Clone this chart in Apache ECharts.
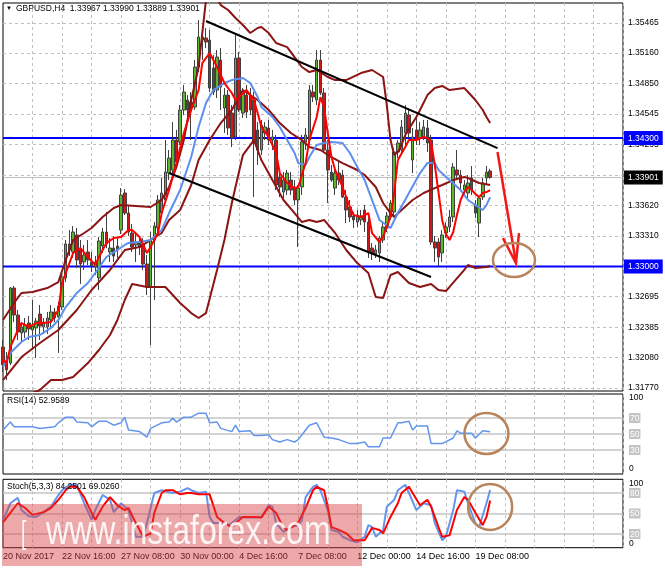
<!DOCTYPE html>
<html><head><meta charset="utf-8">
<script src="https://cdn.jsdelivr.net/npm/echarts@6/dist/echarts.min.js"></script>
<style>html,body{margin:0;padding:0;background:#fff}#c{width:665px;height:568px}</style>
</head><body><div id="c"></div>
<script>
// ---------- categories / ticks ----------
const barCount = 169;                 // H4 bars visible across the plot width
const barsPerLabel = 16;
const barsPerGrid = 8;
const tickLabels = ['20 Nov 2017','22 Nov 16:00','27 Nov 08:00','30 Nov 00:00','4 Dec 16:00','7 Dec 08:00','12 Dec 00:00','14 Dec 16:00','19 Dec 08:00'];
const priceGrid = [1.31770,1.32080,1.32385,1.32695,1.33000,1.33310,1.33620,1.33925,1.34235,1.34545,1.34850,1.35160,1.35465];
const priceLabels = [1.31770,1.32080,1.32385,1.32695,1.33310,1.33620,1.34235,1.34545,1.34850,1.35160,1.35465];
const priceMin = 1.31740, priceMax = 1.35667;
const levels = [1.34300, 1.33000];
const lastPrice = 1.33901;
const rsiLevels = [30,50,70];
const stochLevels = [20,50,80];

// ---------- candles ----------
const open = [1.32185,1.32054,1.32023,1.32782,1.32509,1.32327,1.32337,1.32428,1.32357,1.32378,
1.32519,1.32388,1.32388,1.32459,1.32540,1.32489,1.32590,1.32884,1.33228,1.33147,
1.33319,1.33167,1.33046,1.33147,1.33046,1.32995,1.32884,1.33207,1.33349,1.33147,
1.33187,1.33207,1.33369,1.33744,1.33541,1.33339,1.33218,1.33248,1.33228,1.33025,
1.32793,1.33268,1.33390,1.33541,1.33673,1.33946,1.33977,1.34280,1.34260,1.34584,
1.34685,1.34665,1.34614,1.35019,1.35292,1.35313,1.35292,1.35009,1.34786,1.35090,
1.34604,1.34735,1.34553,1.34311,1.35110,1.34553,1.34735,1.34735,1.34685,1.34382,
1.34179,1.34351,1.34402,1.34280,1.34280,1.33906,1.33754,1.33774,1.33875,1.33794,
1.33673,1.33805,1.34260,1.34280,1.34766,1.34685,1.35090,1.34756,1.34179,1.33956,
1.33794,1.33946,1.33926,1.33703,1.33602,1.33511,1.33450,1.33471,1.33572,1.33450,
1.33187,1.33127,1.33137,1.33268,1.33390,1.33501,1.33552,1.34159,1.34179,1.34351,
1.34533,1.34078,1.34382,1.34300,1.34311,1.34402,1.34280,1.33248,1.33248,1.33137,
1.33339,1.33400,1.33501,1.33977,1.33926,1.33774,1.33744,1.33896,1.33622,1.33440,
1.33703,1.33896,1.33967];
const close = [1.32003,1.31953,1.32782,1.32509,1.32337,1.32388,1.32408,1.32368,1.32398,1.32448,
1.32398,1.32438,1.32479,1.32540,1.32479,1.32600,1.32894,1.33228,1.33167,1.33349,
1.33066,1.33025,1.33116,1.33066,1.33005,1.33046,1.33258,1.33349,1.33228,1.33187,
1.33106,1.33167,1.33724,1.33541,1.33349,1.33197,1.33248,1.33197,1.33025,1.32793,
1.33268,1.33410,1.33673,1.33744,1.33956,1.34098,1.34280,1.34058,1.34584,1.34766,
1.34584,1.34604,1.35019,1.35323,1.35323,1.35272,1.34806,1.34766,1.35120,1.34816,
1.34735,1.34402,1.34300,1.35110,1.34584,1.34766,1.34564,1.34584,1.34250,1.34179,
1.34432,1.34412,1.34280,1.34311,1.33825,1.33805,1.33875,1.33946,1.33774,1.33673,
1.33794,1.34260,1.34331,1.34786,1.34715,1.35090,1.34756,1.34179,1.33977,1.33875,
1.33946,1.33875,1.33703,1.33572,1.33501,1.33471,1.33521,1.33511,1.33450,1.33147,
1.33137,1.33167,1.33288,1.33400,1.33511,1.33643,1.34159,1.34250,1.34412,1.34553,
1.34351,1.34311,1.34280,1.34382,1.34412,1.34250,1.33248,1.33187,1.33096,1.33319,
1.33400,1.33501,1.34007,1.33926,1.33845,1.33825,1.33845,1.33774,1.33541,1.33693,
1.33845,1.33956,1.33901];
const low = [1.31932,1.31851,1.32003,1.32438,1.32256,1.32236,1.32276,1.32256,1.32155,1.32074,
1.32256,1.32317,1.32317,1.32388,1.32438,1.32125,1.32560,1.32843,1.33106,1.33086,
1.32985,1.32823,1.32965,1.33015,1.32944,1.32914,1.32762,1.33137,1.33187,1.33046,
1.33046,1.33086,1.33329,1.33521,1.33309,1.33147,1.33046,1.33116,1.32965,1.32712,
1.32206,1.32661,1.33319,1.33521,1.33643,1.33875,1.33926,1.34027,1.34230,1.34533,
1.34503,1.34280,1.34584,1.34968,1.35090,1.35211,1.34766,1.34735,1.34705,1.34584,
1.34351,1.34331,1.34209,1.34280,1.34564,1.34503,1.34503,1.34533,1.33703,1.34027,
1.34128,1.34280,1.34230,1.34179,1.33774,1.33703,1.33693,1.33724,1.33724,1.33622,
1.33197,1.33724,1.34179,1.34230,1.34665,1.34634,1.34735,1.34159,1.33643,1.33855,
1.33724,1.33825,1.33693,1.33440,1.33450,1.33390,1.33400,1.33420,1.33349,1.33086,
1.33066,1.33086,1.33046,1.33238,1.33349,1.33471,1.33521,1.34098,1.34128,1.34230,
1.34300,1.33946,1.34230,1.34230,1.34280,1.34159,1.33218,1.33046,1.33005,1.33046,
1.33288,1.33349,1.33450,1.33896,1.33774,1.33724,1.33693,1.33724,1.33491,1.33299,
1.33673,1.33825,1.33889];
const high = [1.32256,1.32135,1.32793,1.32803,1.32560,1.32438,1.32479,1.32499,1.32661,1.32479,
1.32610,1.32479,1.32540,1.32610,1.32580,1.32641,1.32914,1.33268,1.33369,1.33410,
1.33390,1.33268,1.33218,1.33268,1.33147,1.33106,1.33299,1.33390,1.33552,1.33288,
1.33309,1.33288,1.33794,1.33784,1.33622,1.33430,1.33349,1.33309,1.33288,1.33116,
1.33349,1.33450,1.33724,1.33896,1.34280,1.34179,1.34462,1.34382,1.34634,1.34837,
1.34735,1.34766,1.35090,1.35495,1.35373,1.35414,1.35394,1.35140,1.35191,1.35211,
1.34806,1.34786,1.34634,1.35363,1.35171,1.34806,1.34837,1.34806,1.34766,1.34462,
1.34483,1.34462,1.34483,1.34382,1.34331,1.33977,1.33956,1.33977,1.33956,1.33875,
1.33825,1.34331,1.34402,1.34837,1.34837,1.35191,1.35191,1.34806,1.34280,1.34027,
1.33997,1.34078,1.33977,1.33774,1.33673,1.33552,1.33572,1.33572,1.33622,1.33491,
1.33238,1.33218,1.33309,1.33450,1.33552,1.33673,1.34199,1.34280,1.34483,1.34634,
1.34604,1.34402,1.34533,1.34462,1.34483,1.34483,1.34331,1.33309,1.33288,1.33369,
1.33450,1.33572,1.34047,1.34179,1.33977,1.33875,1.33926,1.34017,1.33673,1.33713,
1.33896,1.34017,1.33990];

// ---------- indicator lines, read as [bar, value] ----------
const redMA = [[0,1.32054],[1,1.32023],[2,1.32185],[4,1.32357],[5,1.32428],[7,1.32388],[9,1.32428],[11,1.32428],[13,1.32438],[15,1.32560],[16,1.32833],[18,1.33035],[19,1.33137],[21,1.33187],[23,1.33096],[25,1.33015],[26,1.33096],[28,1.33238],[30,1.33288],[32,1.33299],[34,1.33369],[35,1.33369],[37,1.33299],[39,1.33137],[40,1.33197],[42,1.33339],[43,1.33541],[45,1.33774],[47,1.34047],[49,1.34351],[51,1.34584],[53,1.34786],[54,1.35059],[56,1.35161],[57,1.35090],[58,1.35019],[60,1.34857],[62,1.34756],[63,1.34685],[64,1.34715],[66,1.34786],[68,1.34685],[69,1.34553],[70,1.34412],[72,1.34311],[74,1.34149],[75,1.33946],[77,1.33845],[79,1.33794],[80,1.33805],[82,1.34047],[83,1.34280],[85,1.34513],[86,1.34715],[87,1.34614],[88,1.34351],[89,1.34108],[90,1.33977],[92,1.33805],[94,1.33602],[95,1.33521],[97,1.33501],[99,1.33541],[100,1.33339],[102,1.33248],[103,1.33299],[105,1.33501],[106,1.33744],[107,1.34078],[109,1.34209],[110,1.34280],[112,1.34280],[114,1.34311],[115,1.34300],[116,1.34260],[117,1.34027],[118,1.33754],[119,1.33471],[120,1.33329],[121,1.33268],[122,1.33349],[123,1.33521],[124,1.33673],[125,1.33754],[126,1.33805],[127,1.33774],[128,1.33734],[129,1.33703],[130,1.33744],[131,1.33754],[132,1.33774]];
const blueMA = [[0,1.31983],[2,1.32125],[5,1.32236],[7,1.32287],[10,1.32307],[13,1.32378],[15,1.32459],[17,1.32590],[20,1.32732],[23,1.32833],[25,1.32934],[28,1.33096],[31,1.33167],[33,1.33218],[34,1.33238],[37,1.33248],[40,1.33268],[43,1.33369],[45,1.33541],[48,1.33774],[51,1.34108],[53,1.34412],[55,1.34655],[57,1.34786],[60,1.34857],[62,1.34887],[65,1.34908],[67,1.34857],[69,1.34715],[70,1.34614],[73,1.34513],[75,1.34412],[77,1.34280],[79,1.34149],[80,1.34047],[82,1.34027],[83,1.34108],[85,1.34230],[87,1.34250],[89,1.34260],[92,1.34250],[94,1.34149],[96,1.34007],[98,1.33875],[99,1.33774],[102,1.33471],[105,1.33390],[107,1.33541],[110,1.33744],[113,1.33946],[115,1.34047],[117,1.34047],[118,1.33977],[121,1.33875],[124,1.33774],[126,1.33673],[130,1.33572],[131,1.33622],[132,1.33703]];
const bbUpper = [[0,1.32459],[3,1.32631],[5,1.32732],[8,1.32742],[12,1.32782],[15,1.32843],[17,1.33066],[19,1.33268],[22,1.33339],[24,1.33390],[27,1.33501],[30,1.33592],[32,1.33622],[36,1.33612],[40,1.33602],[43,1.33673],[45,1.33805],[47,1.34007],[49,1.34280],[51,1.34685],[53,1.35019],[54,1.35363],[55,1.35697],[57,1.35778],[59,1.35646],[61,1.35596],[63,1.35515],[65,1.35444],[67,1.35363],[69,1.35414],[70,1.35424],[72,1.35363],[74,1.35262],[77,1.35221],[79,1.35120],[81,1.35019],[83,1.34968],[85,1.34989],[88,1.34918],[90,1.34887],[93,1.34887],[97,1.34958],[100,1.34989],[103,1.34918],[104,1.34634],[105,1.34280],[106,1.34128],[107,1.34159],[108,1.34230],[109,1.34331],[112,1.34513],[113,1.34584],[115,1.34735],[117,1.34806],[119,1.34827],[121,1.34786],[125,1.34806],[126,1.34766],[128,1.34685],[130,1.34584],[131,1.34513],[132,1.34452]];
const bbMiddle = [[0,1.31851],[5,1.32084],[10,1.32226],[15,1.32357],[20,1.32560],[24,1.32762],[29,1.32965],[33,1.33167],[37,1.33197],[40,1.33268],[43,1.33339],[45,1.33471],[48,1.33572],[51,1.33825],[53,1.34078],[56,1.34280],[59,1.34452],[62,1.34584],[65,1.34786],[69,1.34685],[72,1.34584],[75,1.34452],[78,1.34351],[81,1.34280],[83,1.34209],[86,1.34179],[89,1.34108],[92,1.34047],[96,1.33977],[98,1.33926],[101,1.33805],[103,1.33643],[105,1.33541],[106,1.33501],[108,1.33572],[111,1.33673],[114,1.33744],[117,1.33794],[119,1.33825],[122,1.33875],[125,1.33906],[126,1.33896],[129,1.33845],[132,1.33825]];
const bbLower = [[8,1.31720],[10,1.31750],[13,1.31851],[16,1.31851],[19,1.31882],[23,1.32023],[26,1.32155],[29,1.32307],[31,1.32459],[33,1.32661],[35,1.32823],[39,1.32793],[44,1.32793],[48,1.32631],[51,1.32529],[53,1.32479],[55,1.32529],[58,1.32965],[60,1.33268],[62,1.33643],[65,1.34128],[68,1.34280],[70,1.34078],[73,1.33875],[76,1.33673],[79,1.33541],[81,1.33450],[83,1.33471],[85,1.33450],[87,1.33471],[90,1.33339],[93,1.33167],[96,1.33035],[99,1.32934],[101,1.32691],[103,1.32681],[105,1.32914],[107,1.32944],[110,1.32833],[113,1.32793],[116,1.32823],[118,1.32762],[120,1.32752],[121,1.32793],[125,1.32965],[126,1.33015],[128,1.32985],[131,1.32995],[132,1.33005]];
const upperTrend = [[55,1.35485],[134,1.34199]];
const lowerTrend = [[45,1.33946],[116,1.32894]];
const rsi = [[0,55],[2,65],[3,59],[5,59],[8,59],[10,57],[14,59],[15,64],[17,71],[19,71],[20,65],[23,64],[24,59],[26,66],[28,66],[30,61],[32,64],[33,71],[34,55],[37,53],[39,46],[40,57],[43,64],[45,65],[46,70],[47,65],[49,71],[51,71],[53,76],[55,76],[56,64],[58,65],[59,57],[62,53],[63,61],[64,53],[67,54],[68,48],[70,48],[72,49],[73,43],[75,40],[77,43],[79,40],[80,43],[82,55],[83,61],[85,64],[86,55],[87,46],[89,45],[91,43],[94,38],[96,38],[98,40],[99,34],[102,34],[103,45],[105,45],[107,64],[108,64],[110,66],[111,55],[112,60],[115,60],[116,38],[119,38],[122,45],[123,54],[124,51],[127,51],[128,45],[130,54],[132,52.96]];
const stochK = [[0,40],[2,65],[4,73],[5,55],[7,46],[9,45],[11,52],[13,60],[15,77],[16,84],[18,92],[20,92],[22,65],[24,41],[25,55],[27,77],[29,70],[30,52],[32,65],[34,55],[36,16],[38,16],[39,36],[41,80],[43,84],[44,82],[46,80],[48,82],[50,87],[51,84],[53,80],[55,82],[56,45],[57,36],[59,36],[61,33],[62,36],[64,45],[66,44],[68,44],[70,45],[72,62],[73,60],[74,36],[76,23],[78,30],[80,33],[81,40],[82,74],[84,89],[85,92],[86,84],[88,55],[89,26],[91,23],[92,16],[94,11],[96,8],[98,16],[99,33],[100,30],[101,16],[103,26],[104,60],[106,70],[107,84],[109,92],[110,80],[112,55],[114,65],[116,62],[117,36],[119,11],[120,16],[122,55],[123,84],[125,82],[126,65],[128,36],[129,30],[131,65],[132,84.25]];
const stochD = [[0,37],[2,51],[4,65],[6,58],[8,48],[11,52],[13,58],[15,70],[17,84],[18,89],[20,89],[22,74],[24,51],[25,41],[27,60],[29,74],[31,62],[33,55],[34,58],[36,36],[38,16],[40,21],[41,51],[43,80],[44,84],[46,84],[48,78],[50,80],[51,80],[53,78],[56,78],[58,45],[60,36],[62,30],[63,36],[65,45],[68,45],[70,44],[72,60],[74,51],[76,29],[77,26],[79,33],[80,37],[82,58],[84,84],[85,89],[87,84],[88,60],[89,30],[91,26],[93,21],[95,11],[98,11],[100,29],[102,26],[103,21],[105,45],[107,65],[108,80],[110,89],[111,80],[113,62],[115,70],[116,60],[118,30],[119,16],[121,18],[123,55],[125,74],[126,70],[128,51],[130,33],[131,45],[132,69.03]];

// ---------- annotations (bar, value) ----------
const arrowFrom = [134, 1.34159], arrowTo = [139, 1.33035];
const mainRing = [139, 1.33066];
const rsiRing = [131, 50.6];
const stochRing = [132, 59.6];

// ---------- chart ----------
const FONT = "'Liberation Sans', Arial, sans-serif";
const chart = echarts.init(document.getElementById('c'));
const cats = Array.from({length: barCount}, (_, i) => String(i));
const lastBar = barCount - 1;
const gridLine = {type: [3, 3], color: '#c0c0c0', width: 1};
const gridBase = {left: 3, right: 42, show: true, borderColor: '#000', borderWidth: 1, backgroundColor: 'transparent', containLabel: false, outerBoundsMode: 'none'};

const xAxes = [0, 1, 2].map(g => ({
  type: 'category', gridIndex: g, data: cats, boundaryGap: false,
  axisLine: {show: false}, axisTick: {show: false},
  axisLabel: g === 2 ? {
    show: true, interval: (i) => i % barsPerLabel === 0 && i / barsPerLabel < tickLabels.length,
    formatter: (v, i) => tickLabels[i / barsPerLabel] || '', align: 'left', margin: 4,
    fontSize: 9, fontFamily: FONT, color: '#000'
  } : {show: false},
  splitLine: {show: true, interval: (i) => i > 0 && i % barsPerGrid === 0, lineStyle: gridLine}
}));

const near = (a, b) => Math.abs(a - b) < 1e-7;
function subLabel(topPad, botPad) {
  return {
    margin: 6, fontSize: 8.5, fontFamily: FONT, color: '#000',
    showMinLabel: true, showMaxLabel: true, hideOverlap: false,
    rich: {
      t: {fontSize: 8.5, fontFamily: FONT, color: '#000', padding: [topPad, 0, 0, 0]},
      b: {fontSize: 8.5, fontFamily: FONT, color: '#000', padding: [0, 0, botPad, 0]},
      l: {fontSize: 8.5, fontFamily: FONT, color: '#fff', backgroundColor: '#c4c4c4', padding: [1, 1, 0, 1]}
    },
    formatter: (v) => v === 100 ? '{t|100}' : v === 0 ? '{b|0}' : '{l|' + v + '}'
  };
}

const line = (data, color, width, xi, extra) => Object.assign({
  type: 'line', xAxisIndex: xi || 0, yAxisIndex: xi || 0, data, showSymbol: false, symbol: 'none',
  lineStyle: {color, width}, itemStyle: {color}, silent: true, animation: false, z: 4
}, extra || {});
const hLine = (v, color, width, z) => line([[0, v], [lastBar, v]], color, width, 0, {z});

const option = {
  animation: false,
  backgroundColor: '#fff',
  title: [
    {text: '▼', left: 6, top: 5, padding: 0, textStyle: {fontSize: 6, fontWeight: 'normal', color: '#000', fontFamily: FONT}},
    {text: 'GBPUSD,H4  1.33967 1.33990 1.33889 1.33901', left: 16, top: 4, padding: 0, textStyle: {fontSize: 8.5, fontWeight: 'normal', color: '#000', fontFamily: FONT}},
    {text: 'RSI(14) 52.9589', left: 7, top: 396, padding: 0, textStyle: {fontSize: 8.5, fontWeight: 'normal', color: '#000', fontFamily: FONT}},
    {text: 'Stoch(5,3,3) 84.2501 69.0260', left: 7, top: 482, padding: 0, textStyle: {fontSize: 8.5, fontWeight: 'normal', color: '#000', fontFamily: FONT}}
  ],
  grid: [
    Object.assign({top: 3, height: 388}, gridBase),
    Object.assign({top: 394, height: 80}, gridBase),
    Object.assign({top: 479.3, height: 68.4}, gridBase)
  ],
  xAxis: xAxes,
  yAxis: [
    {
      type: 'value', gridIndex: 0, position: 'right', min: priceMin, max: priceMax,
      axisLine: {show: false}, axisTick: {show: false, customValues: priceGrid},
      splitLine: {show: true, lineStyle: gridLine},
      axisLabel: {
        customValues: priceLabels.concat([lastPrice], levels), margin: 1,
        showMinLabel: true, showMaxLabel: true, hideOverlap: false,
        fontSize: 8.5, fontFamily: FONT, color: '#000',
        formatter: (v) => {
          const s = v.toFixed(5);
          if (levels.some(l => near(l, v))) return '{b|' + s + '}';
          if (near(v, lastPrice)) return '{k|' + s + '}';
          return '{n|' + s + '}';
        },
        rich: {
          n: {fontSize: 8.5, fontFamily: FONT, color: '#000', padding: [0, 0, 0, 4]},
          b: {fontSize: 8.5, fontFamily: FONT, color: '#fff', backgroundColor: '#0000ff', padding: [3, 4, 2, 4]},
          k: {fontSize: 8.5, fontFamily: FONT, color: '#fff', backgroundColor: '#000', padding: [3, 4, 2, 4]}
        }
      }
    },
    {
      type: 'value', gridIndex: 1, position: 'right', min: 0, max: 100,
      axisLine: {show: false}, axisTick: {show: false, customValues: rsiLevels},
      splitLine: {show: true, lineStyle: {color: '#c4c4c4', width: 1.5, type: 'solid'}},
      axisLabel: Object.assign({customValues: [100, 70, 50, 30, 0]}, subLabel(8, 10))
    },
    {
      type: 'value', gridIndex: 2, position: 'right', min: 0, max: 100,
      axisLine: {show: false}, axisTick: {show: false, customValues: stochLevels},
      splitLine: {show: true, lineStyle: {color: '#c4c4c4', width: 1.5, type: 'solid'}},
      axisLabel: Object.assign({customValues: [100, 80, 50, 20, 0]}, subLabel(8, 8))
    }
  ],
  series: [
    hLine(lastPrice, '#c0c0c0', 1, 1),
    hLine(levels[0], '#0000ff', 2, 1),
    hLine(levels[1], '#0000ff', 2, 1),
    {
      type: 'candlestick', xAxisIndex: 0, yAxisIndex: 0, barWidth: 3, silent: true, z: 2,
      data: open.map((o, i) => [o, close[i], low[i], high[i]]),
      itemStyle: {color: '#5cb82a', color0: '#d01818', borderColor: '#404040', borderColor0: '#404040', borderWidth: 1}
    },
    line(bbUpper, '#8b1414', 2),
    line(bbMiddle, '#8b1414', 2),
    line(bbLower, '#8b1414', 2),
    line(blueMA, '#5b8ff0', 2),
    line(redMA, '#ff0000', 2),
    line(upperTrend, '#000', 2),
    line(lowerTrend, '#000', 2),
    line(rsi, '#6495ed', 1.5, 1),
    line(stochK, '#6495ed', 2, 2),
    line(stochD, '#ff0000', 2, 2)
  ]
};
chart.setOption(option);

const P = (g, pt) => chart.convertToPixel({xAxisIndex: g, yAxisIndex: g}, pt);
const a0 = P(0, arrowFrom), a1 = P(0, arrowTo);
const e0 = P(0, mainRing), e1 = P(1, rsiRing), e2 = P(2, stochRing);
const ringStyle = {fill: 'none', stroke: '#b8845c', lineWidth: 2.5};
const arrowStyle = {stroke: '#f01818', lineWidth: 2.5, fill: 'none'};
const wmFont = "40px 'Liberation Sans', Arial, sans-serif";
chart.setOption({
  graphic: [
    {type: 'polyline', z: 50, shape: {points: [a0, a1]}, style: arrowStyle, silent: true},
    {type: 'polyline', z: 50, shape: {points: [[a1[0] - 13, a1[1] - 25], a1, [a1[0] + 3, a1[1] - 30]]}, style: arrowStyle, silent: true},
    {type: 'ellipse', z: 50, shape: {cx: e0[0] - 2, cy: e0[1], rx: 21, ry: 17}, style: ringStyle, silent: true},
    {type: 'ellipse', z: 50, shape: {cx: e1[0], cy: e1[1], rx: 22, ry: 20.5}, style: ringStyle, silent: true},
    {type: 'ellipse', z: 50, shape: {cx: e2[0], cy: e2[1], rx: 22, ry: 23}, style: ringStyle, silent: true},
    {type: 'rect', z: 100, shape: {x: 2, y: 504, width: 360, height: 62}, style: {fill: 'rgba(214,64,64,0.45)'}, silent: true},
    {type: 'text', z: 101, x: 21, y: 534, scaleX: 0.6, style: {text: '[', x: 0, y: 0, fill: 'rgba(255,255,255,0.9)', font: "32px 'Liberation Sans', Arial, sans-serif", verticalAlign: 'middle'}, silent: true},
    {type: 'text', z: 101, x: 46, y: 533, scaleX: 0.8, style: {text: 'www.instaforex.com', x: 0, y: 0, fill: 'rgba(255,255,255,0.88)', font: wmFont, verticalAlign: 'middle'}, silent: true}
  ]
});
</script></body></html>
